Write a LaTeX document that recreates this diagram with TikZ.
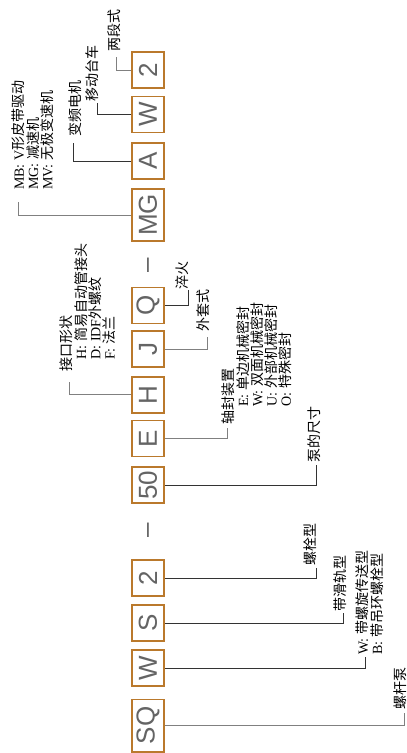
\documentclass[tikz,border=0pt]{standalone}
\usepackage{fontspec}
\setmainfont{Liberation Serif}
\newfontfamily\cjk{Noto Sans CJK SC}
\newfontfamily\boxfont{Liberation Sans}
\usetikzlibrary{positioning}

\definecolor{frame}{RGB}{186,121,44}
\definecolor{codegray}{RGB}{100,100,100}
\newcommand{\latn}[1]{{\rmfamily #1}}
\newcommand{\up}[1]{\rotatebox{90}{#1}}

\begin{document}
\begin{tikzpicture}[x=1pt, y=-1pt, node distance=7pt]
	% Styles
	\tikzset{
		codebox/.style={draw=frame, line width=1.6pt, fill=white, minimum width=32.4pt, minimum height=36pt, inner sep=0pt, text=codegray, font=\boxfont\fontsize{26}{26}\selectfont},
		joiner/.style={inner sep=0pt, text=codegray, font=\boxfont\fontsize{26}{26}\selectfont},
		lbl/.style={rotate=90, anchor=north west, inner sep=0pt, align=left, font=\cjk\fontsize{14}{14.2}\selectfont},
		lead/.style={draw=black!80, line width=0.8pt},
		leadg/.style={draw=black!50, line width=0.9pt}
	}
	\useasboundingbox (0,0) rectangle (407,753);

	% Code boxes, top to bottom
	\node[codebox] (two) at (148,70) {\up{2}};
	\node[codebox, below=7pt of two] (wagon) {\up{W}};
	\node[codebox, below=9pt of wagon] (motor) {\up{A}};
	\node[codebox, minimum height=52.4pt, below=8pt of motor] (drive) {\up{MG}};
	\node[joiner, below=16pt of drive, xshift=3pt] (dashA) {\up{–}};
	\node[codebox, below=14pt of dashA, xshift=-3pt] (quench) {\up{Q}};
	\node[codebox, below=6pt of quench] (jacket) {\up{J}};
	\node[codebox, below=8pt of jacket] (inlet) {\up{H}};
	\node[codebox, below=6pt of inlet] (seal) {\up{E}};
	\node[codebox, below=9pt of seal] (size) {\up{50}};
	\node[joiner, below=19pt of size, xshift=3pt] (dashB) {\up{–}};
	\node[codebox, below=21.5pt of dashB, xshift=-3pt] (bolt) {\up{2}};
	\node[codebox, below=7.5pt of bolt] (rail) {\up{S}};
	\node[codebox, below=7.5pt of rail] (screw) {\up{W}};
	\node[codebox, minimum height=52.4pt, below=11.5pt of screw] (pump) {\up{SQ}};

	% Labels
	\node[lbl] (lTwo) at (107,52) {两段式};
	\node[lbl] (lWagon) at (85,102) {移动台车};
	\node[lbl] (lMotor) at (68,137) {变频电机};
	\node[lbl] (lDrive) at (12,190) {\latn{MB:}\hspace{4pt}\latn{V}形皮带驱动\\\latn{MG:}\hspace{4pt}减速机\\\latn{MV:}\hspace{4pt}无极变速机};
	\node[lbl] (lInlet) at (60,372) {接口形状\\\hspace{12pt}\latn{H:}\hspace{4pt}简易自动管接头\\\hspace{12pt}\latn{D:}\hspace{4pt}\latn{IDF}外螺纹\\\hspace{12pt}\latn{F:}\hspace{4pt}法兰};
	\node[lbl] (lQuench) at (175,290) {淬火};
	\node[lbl] (lJacket) at (197,332) {外套式};
	\node[lbl] (lSeal) at (222,425) {轴封装置\\\hspace{18pt}\latn{E:}\hspace{4pt}单边机械密封\\\hspace{18pt}\latn{W:}\hspace{4pt}双面机械密封\\\hspace{18pt}\latn{U:}\hspace{4pt}外部机械密封\\\hspace{18pt}\latn{O:}\hspace{4pt}特殊密封};
	\node[lbl] (lSize) at (307,463) {泵的尺寸};
	\node[lbl] (lBolt) at (304,566) {螺栓型};
	\node[lbl] (lRail) at (333,612) {带滑轨型};
	\node[lbl] (lScrew) at (356,655) {\latn{W:}\hspace{4pt}带螺旋传送型\\\latn{B:}\hspace{4pt}带吊环螺栓型};
	\node[lbl] (lPump) at (394,710) {螺杆泵};

	% Leaders, left side
	\draw[leadg] (two.west) -| ([xshift=9pt, yshift=-5pt]lTwo.north west);
	\draw[lead] (wagon.west) -| ([xshift=12pt, yshift=-1pt]lWagon.north west);
	\draw[lead] (motor.west) -| ([xshift=5pt, yshift=-6pt]lMotor.north west);
	\draw[leadg] (drive.west) -| ([xshift=6pt, yshift=-12pt]lDrive.north west);
	\draw[leadg] (inlet.west) -| ([xshift=9pt, yshift=-10pt]lInlet.north west);
	% Leaders, right side
	\draw[lead] (quench.east) -| ([xshift=13pt]lQuench.north west);
	\draw[leadg] (jacket.east) -| ([xshift=10pt, yshift=-5pt]lJacket.north west);
	\draw[leadg] (seal.east) -| ([xshift=5pt, yshift=-3pt]lSeal.north west);
	\draw[lead] (size.east) -| ([xshift=9pt, yshift=-2pt]lSize.north west);
	\draw[lead] (bolt.east) -| ([xshift=12pt, yshift=-2pt]lBolt.north west);
	\draw[lead] (rail.east) -| ([xshift=10pt, yshift=-1pt]lRail.north west);
	\draw[lead] (screw.east) -| ([xshift=9pt, yshift=-2pt]lScrew.north west);
	\draw[leadg] (pump.east) -| ([xshift=10pt, yshift=-3pt]lPump.north west);
\end{tikzpicture}
\end{document}
